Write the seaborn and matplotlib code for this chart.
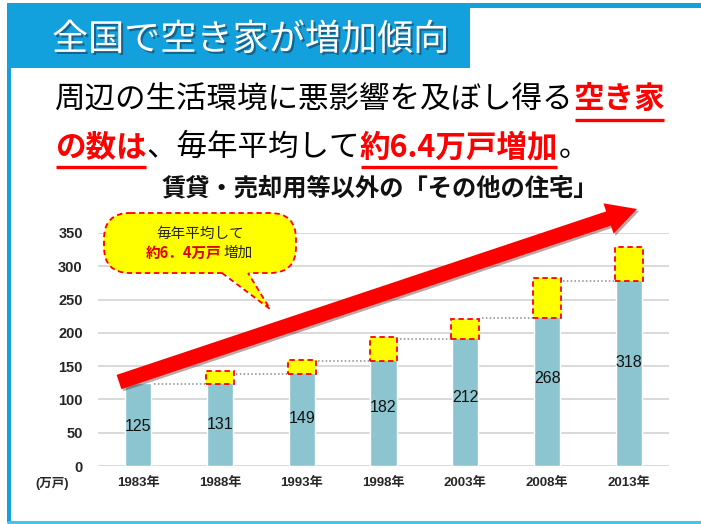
import numpy as np
import pandas as pd
import matplotlib
matplotlib.use('Agg')
import matplotlib.pyplot as plt
import matplotlib.patches as mpatches
import matplotlib.patheffects as pe
import seaborn as sns

# data
years = ['1983年', '1988年', '1993年', '1998年', '2003年', '2008年', '2013年']
counts = [125, 131, 149, 182, 212, 268, 318]          # 万戸
box_bottom = [np.nan, 123, 138, 158, 191, 223, 278]   # yellow increment boxes
box_top = [np.nan, 142, 159, 194, 221, 282, 329]
y_ticks = [0, 50, 100, 150, 200, 250, 300, 350]

sns.set_style('white')
plt.rcParams['font.family'] = ['Noto Sans CJK JP', 'DejaVu Sans']
num_font = ['Liberation Sans', 'Noto Sans CJK JP']

BLUE = '#13a1dd'
RED = '#ff0000'

fig = plt.figure(figsize=(7.01, 5.24), dpi=100)
fig.patch.set_facecolor('white')

# ---- chart ----
ax = fig.add_axes([98 / 701, 58 / 524, 571 / 701, 233 / 524])
df = pd.DataFrame({'year': years, 'count': counts})
sns.barplot(data=df, x='year', y='count', color='#8cc5cf', width=0.32,
            saturation=1, ax=ax, zorder=2)

xs = np.arange(len(years))
bb = np.array(box_bottom, dtype=float)
bt = np.array(box_top, dtype=float)
ax.bar(xs[1:], bt[1:] - bb[1:], bottom=bb[1:], width=0.34, color='#ffff00',
       edgecolor=RED, linestyle=(0, (3, 2)), linewidth=1.3, zorder=3)
for i in range(1, len(years)):
    ax.hlines(bb[i], i - 1 + 0.2, i - 0.17, colors='#8a8a8a',
              linestyles=(0, (1, 1.5)), linewidth=1.1, zorder=2)

for i, v in enumerate(counts):
    ax.text(i, v / 2 - 3, str(v), ha='center', va='center', fontsize=11.5,
            family=num_font, color='#111111', zorder=4)

ax.set_xlim(-0.49, 6.49)
ax.set_ylim(0, 350)
ax.set_yticks(y_ticks)
ax.set_yticklabels([str(t) for t in y_ticks], family=num_font,
                   fontweight='bold', fontsize=10.5)
ax.set_xticks(xs)
ax.set_xticklabels(years, family=num_font, fontweight='bold', fontsize=9.5)
ax.tick_params(axis='y', length=0, pad=11)
ax.tick_params(axis='x', length=0, pad=8)
ax.set_xlabel('')
ax.set_ylabel('')
ax.yaxis.grid(True, color='#d9d9d9', linewidth=1.4, zorder=0)
ax.set_axisbelow(True)
for s in ax.spines.values():
    s.set_visible(False)

# ---- overlay in pixel coordinates ----
ov = fig.add_axes([0, 0, 1, 1])
ov.set_xlim(0, 701)
ov.set_ylim(524, 0)
ov.axis('off')
ov.set_zorder(5)

# frame and title bar
ov.add_patch(mpatches.Rectangle((8, 3), 693, 5, color=BLUE, lw=0))
ov.add_patch(mpatches.Rectangle((7, 3), 4, 519, color=BLUE, lw=0))
ov.add_patch(mpatches.Rectangle((8, 3), 462, 65, color=BLUE, lw=0))
ov.plot([8, 701], [522, 522], color='#45c3ea', lw=2.2)
ov.text(52, 40, '全国で空き家が増加傾向', color='white', fontsize=26,
        va='center', ha='left',
        path_effects=[pe.withSimplePatchShadow(offset=(1.5, -1.5),
                                               shadow_rgbFace='#1a3a55',
                                               alpha=0.6)])

renderer = fig.canvas.get_renderer()
inv = ov.transData.inverted()


def write_runs(x, y, runs, size, ul_off):
    for s, color, bold, ul in runs:
        t = ov.text(x, y, s, color=color, fontsize=size, va='center', ha='left',
                    fontweight='bold' if bold else 'normal')
        ext = t.get_window_extent(renderer)
        x0 = inv.transform((ext.x0, ext.y0))[0]
        x1 = inv.transform((ext.x1, ext.y0))[0]
        if ul:
            ov.plot([x0 + 1, x1 - 1], [y + ul_off] * 2, color=color, lw=2.4,
                    solid_capstyle='butt')
        x = x1


write_runs(55, 100, [('周辺の生活環境に悪影響を及ぼし得る', 'black', False, False),
                     ('空き家', RED, True, True)], 22, 20)
write_runs(55, 147, [('の数は', RED, True, True),
                     ('、毎年平均して', 'black', False, False),
                     ('約6.4万戸増加', RED, True, True),
                     ('。', 'black', False, False)], 22, 20)

ov.text(380, 188, '賃貸・売却用等以外の「その他の住宅」', fontsize=17.5, fontweight='bold',
        ha='center', va='center', color='#111111')

ov.text(52, 483, '(万戸)', family=num_font, fontsize=9, fontweight='bold',
        ha='center', va='center')

# big trend arrow
arrow = mpatches.FancyArrow(119, 382, 637 - 119, 209 - 382, width=15,
                            head_width=32, head_length=30,
                            length_includes_head=True, color=RED, lw=0)
arrow.set_path_effects([pe.SimplePatchShadow(offset=(1.5, -1.5), alpha=0.35),
                        pe.Normal()])
ov.add_patch(arrow)

# callout bubble
bubble = mpatches.FancyBboxPatch((104, 213), 192, 60,
                                 boxstyle='round,pad=0,rounding_size=26',
                                 facecolor='#ffff00', edgecolor=RED,
                                 linestyle=(0, (3, 2)), linewidth=1.3)
ov.add_patch(bubble)
ov.add_patch(mpatches.Polygon([(222, 271), (248, 271), (270, 309)],
                              closed=True, facecolor='#ffff00', lw=0))
ov.plot([222, 270, 248], [273, 309, 273], color=RED, lw=1.3,
        linestyle=(0, (3, 2)))
ov.text(200, 234, '毎年平均して', fontsize=10.5, ha='center', va='center')
ov.text(221, 253, '約6．4万戸', fontsize=10.5, fontweight='bold', color='#e00000',
        ha='right', va='center')
ov.text(224, 253, '増加', fontsize=10.5, ha='left', va='center')

fig.savefig('out.png', dpi=100)
